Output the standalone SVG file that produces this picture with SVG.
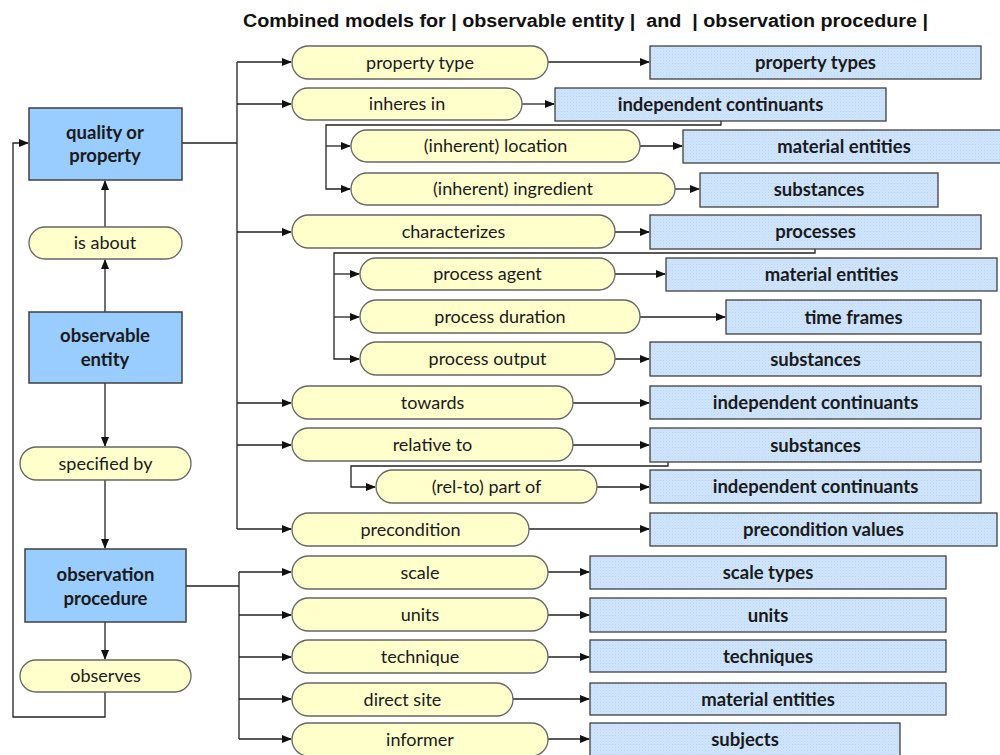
<svg xmlns="http://www.w3.org/2000/svg" width="1000" height="755" viewBox="0 0 1000 755">
<defs>
<pattern id="hatch" width="3" height="3" patternUnits="userSpaceOnUse">
<rect width="3" height="3" fill="#cfe5fd"/>
<rect x="0" y="0" width="1" height="1" fill="#bcd5f0"/>
<rect x="1.5" y="1.5" width="1" height="1" fill="#c4dbf4"/>
</pattern>
<marker id="ah" markerWidth="10" markerHeight="8" refX="9" refY="4" orient="auto" markerUnits="userSpaceOnUse">
<path d="M0,0 L10,4 L0,8 Z" fill="#111"/>
</marker>
</defs>
<style>
.main rect{fill:#99ccff;stroke:#404040;stroke-width:1.5}
.pill rect{fill:#ffffcc;stroke:#666;stroke-width:1.3}
.tgt rect{fill:url(#hatch);stroke:#404040;stroke-width:1.3}
text{font-family:Lato,"Noto Sans","Liberation Sans",sans-serif;font-size:18px;fill:#1a1a1a;text-anchor:middle}
.main text,.tgt text{font-weight:bold;font-size:18.5px}
.conn path{fill:none;stroke:#222;stroke-width:1.3}
.conn .a{marker-end:url(#ah)}
.title{font-family:"Liberation Sans",Arial,sans-serif;font-weight:bold;font-size:18px;text-anchor:start;fill:#111;white-space:pre}
</style>
<rect width="1000" height="755" fill="#fff"/>
<text class="title" x="243" y="27" textLength="685" lengthAdjust="spacingAndGlyphs" xml:space="preserve">Combined models for | observable entity |  and  | observation procedure |</text>

<g class="conn">
<path class="a" d="M105,227 V181"/>
<path class="a" d="M105,312 V260"/>
<path class="a" d="M105,383 V446"/>
<path class="a" d="M105,480 V548"/>
<path class="a" d="M105,622 V659"/>
<path class="a" d="M105,692 V717 H13 V143 H28"/>
<path d="M182,143 H237 M237,62 V529"/>
<path class="a" d="M237,62 H291"/>
<path class="a" d="M237,104 H291"/>
<path class="a" d="M237,232 H291"/>
<path class="a" d="M237,403 H291"/>
<path class="a" d="M237,445 H291"/>
<path class="a" d="M237,529 H291"/>
<path class="a" d="M721,121 V125 H326 V189 H350"/>
<path class="a" d="M326,146 H350"/>
<path class="a" d="M815,249 V253 H334 V359 H359"/>
<path class="a" d="M334,274 H359"/>
<path class="a" d="M334,317 H359"/>
<path class="a" d="M668,462 V466 H351 V487 H375"/>
<path d="M186,586 H239 M239,572 V739"/>
<path class="a" d="M239,572 H291"/>
<path class="a" d="M239,615 H291"/>
<path class="a" d="M239,657 H291"/>
<path class="a" d="M239,699 H291"/>
<path class="a" d="M239,739 H291"/>
<path class="a" d="M548,62 H649"/>
<path class="a" d="M522,104 H554"/>
<path class="a" d="M640,146 H682"/>
<path class="a" d="M675,189 H699"/>
<path class="a" d="M615,232 H649"/>
<path class="a" d="M615,274 H665"/>
<path class="a" d="M640,317 H725"/>
<path class="a" d="M615,359 H649"/>
<path class="a" d="M573,403 H649"/>
<path class="a" d="M573,445 H649"/>
<path class="a" d="M597,487 H649"/>
<path class="a" d="M529,529 H649"/>
<path class="a" d="M548,572 H589"/>
<path class="a" d="M548,615 H589"/>
<path class="a" d="M548,657 H589"/>
<path class="a" d="M513,699 H589"/>
<path class="a" d="M548,739 H589"/>
</g>

<g id="quality" class="main"><rect x="29" y="108" width="153" height="72"/><text x="105" y="139">quality or</text><text x="105" y="162">property</text></g>
<g id="isabout" class="pill"><rect x="29" y="227" width="153" height="32" rx="16"/><text x="105" y="249">is about</text></g>
<g id="observable" class="main"><rect x="29" y="312" width="153" height="71"/><text x="105" y="342">observable</text><text x="105" y="366">entity</text></g>
<g id="specified" class="pill"><rect x="20" y="447" width="171" height="33" rx="16.5"/><text x="105.5" y="470">specified by</text></g>
<g id="procedure" class="main"><rect x="25" y="549" width="161" height="73"/><text x="105.5" y="581">observation</text><text x="105.5" y="605">procedure</text></g>
<g id="observes" class="pill"><rect x="20" y="660" width="171" height="32" rx="16"/><text x="105.5" y="682">observes</text></g>

<g id="p-proptype" class="pill"><rect x="292" y="46" width="256" height="33" rx="16.5"/><text x="420" y="69">property type</text></g>
<g id="p-inheres" class="pill"><rect x="292" y="88" width="230" height="32" rx="16"/><text x="407" y="110">inheres in</text></g>
<g id="p-location" class="pill"><rect x="351" y="130" width="289" height="32" rx="16"/><text x="495.5" y="152">(inherent) location</text></g>
<g id="p-ingredient" class="pill"><rect x="351" y="173" width="324" height="32" rx="16"/><text x="513" y="195">(inherent) ingredient</text></g>
<g id="p-char" class="pill"><rect x="292" y="215" width="323" height="33" rx="16.5"/><text x="453.5" y="238">characterizes</text></g>
<g id="p-agent" class="pill"><rect x="360" y="258" width="255" height="32" rx="16"/><text x="487.5" y="280">process agent</text></g>
<g id="p-duration" class="pill"><rect x="360" y="300" width="280" height="33" rx="16.5"/><text x="500" y="323">process duration</text></g>
<g id="p-output" class="pill"><rect x="360" y="342" width="255" height="33" rx="16.5"/><text x="487.5" y="365">process output</text></g>
<g id="p-towards" class="pill"><rect x="292" y="386" width="281" height="33" rx="16.5"/><text x="432.5" y="409">towards</text></g>
<g id="p-relative" class="pill"><rect x="292" y="428" width="281" height="33" rx="16.5"/><text x="432.5" y="451">relative to</text></g>
<g id="p-partof" class="pill"><rect x="376" y="470" width="221" height="33" rx="16.5"/><text x="486.5" y="493">(rel-to) part of</text></g>
<g id="p-precond" class="pill"><rect x="292" y="513" width="237" height="33" rx="16.5"/><text x="410.5" y="536">precondition</text></g>
<g id="p-scale" class="pill"><rect x="292" y="556" width="256" height="33" rx="16.5"/><text x="420" y="579">scale</text></g>
<g id="p-units" class="pill"><rect x="292" y="598" width="256" height="33" rx="16.5"/><text x="420" y="621">units</text></g>
<g id="p-technique" class="pill"><rect x="292" y="640" width="256" height="33" rx="16.5"/><text x="420" y="663">technique</text></g>
<g id="p-site" class="pill"><rect x="292" y="683" width="221" height="33" rx="16.5"/><text x="402.5" y="706">direct site</text></g>
<g id="p-informer" class="pill"><rect x="292" y="723" width="256" height="33" rx="16.5"/><text x="420" y="746">informer</text></g>

<g id="t-proptypes" class="tgt"><rect x="650" y="46" width="331" height="33"/><text x="815.5" y="69">property types</text></g>
<g id="t-indep1" class="tgt"><rect x="555" y="88" width="331" height="33"/><text x="720.5" y="111">independent continuants</text></g>
<g id="t-mat1" class="tgt"><rect x="683" y="130" width="320" height="33"/><text x="844" y="153">material entities</text></g>
<g id="t-subst1" class="tgt"><rect x="700" y="173" width="238" height="34"/><text x="819" y="196">substances</text></g>
<g id="t-processes" class="tgt"><rect x="650" y="215" width="331" height="34"/><text x="815.5" y="238">processes</text></g>
<g id="t-mat2" class="tgt"><rect x="666" y="258" width="331" height="33"/><text x="831.5" y="281">material entities</text></g>
<g id="t-time" class="tgt"><rect x="726" y="300" width="255" height="34"/><text x="853.5" y="323.5">time frames</text></g>
<g id="t-subst2" class="tgt"><rect x="650" y="342" width="331" height="34"/><text x="815.5" y="365.5">substances</text></g>
<g id="t-indep2" class="tgt"><rect x="650" y="386" width="331" height="33"/><text x="815.5" y="409">independent continuants</text></g>
<g id="t-subst3" class="tgt"><rect x="650" y="428" width="331" height="34"/><text x="815.5" y="451.5">substances</text></g>
<g id="t-indep3" class="tgt"><rect x="650" y="470" width="331" height="33"/><text x="815.5" y="493">independent continuants</text></g>
<g id="t-precond" class="tgt"><rect x="650" y="513" width="347" height="33"/><text x="823.5" y="536">precondition values</text></g>
<g id="t-scale" class="tgt"><rect x="590" y="556" width="356" height="33"/><text x="768" y="579">scale types</text></g>
<g id="t-units" class="tgt"><rect x="590" y="598" width="356" height="34"/><text x="768" y="621.5">units</text></g>
<g id="t-tech" class="tgt"><rect x="590" y="640" width="356" height="32"/><text x="768" y="662.5">techniques</text></g>
<g id="t-mat3" class="tgt"><rect x="590" y="683" width="356" height="32"/><text x="768" y="705.5">material entities</text></g>
<g id="t-subjects" class="tgt"><rect x="590" y="723" width="310" height="33"/><text x="745" y="746">subjects</text></g>
</svg>
